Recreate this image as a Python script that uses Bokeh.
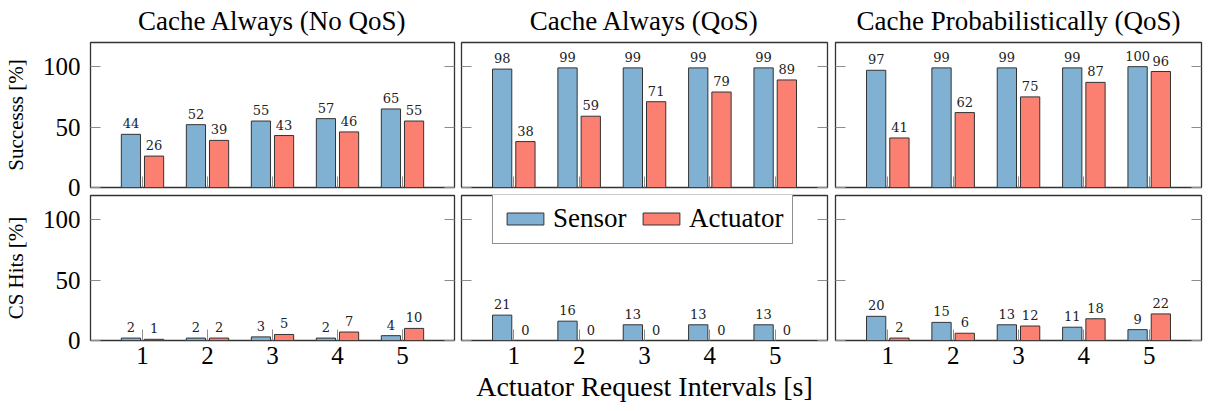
from bokeh.plotting import figure
from bokeh.layouts import row, column
from bokeh.models import ColumnDataSource, FixedTicker, LinearAxis, Range1d
from bokeh.transform import dodge
from bokeh.core.properties import value
from bokeh.embed import file_html
from bokeh.resources import INLINE

# ---------------- data ----------------
intervals = [1, 2, 3, 4, 5]
tick_labels = ["1", "2", "3", "4", "5"]
titles = ["Cache Always (No QoS)", "Cache Always (QoS)", "Cache Probabilistically (QoS)"]
row_labels = ["Successs [%]", "CS Hits [%]"]
x_label = "Actuator Request Intervals [s]"
y_ticks = [0, 50, 100]

success_sensor_noqos = [44, 52, 55, 57, 65]
success_actuator_noqos = [26, 39, 43, 46, 55]
success_sensor_qos = [98, 99, 99, 99, 99]
success_actuator_qos = [38, 59, 71, 79, 89]
success_sensor_prob = [97, 99, 99, 99, 100]
success_actuator_prob = [41, 62, 75, 87, 96]

cs_sensor_noqos = [2, 2, 3, 2, 4]
cs_actuator_noqos = [1, 2, 5, 7, 10]
cs_sensor_qos = [21, 16, 13, 13, 13]
cs_actuator_qos = [0, 0, 0, 0, 0]
cs_sensor_prob = [20, 15, 13, 11, 9]
cs_actuator_prob = [2, 6, 12, 18, 22]

panels = [
    [(success_sensor_noqos, success_actuator_noqos),
     (success_sensor_qos, success_actuator_qos),
     (success_sensor_prob, success_actuator_prob)],
    [(cs_sensor_noqos, cs_actuator_noqos),
     (cs_sensor_qos, cs_actuator_qos),
     (cs_sensor_prob, cs_actuator_prob)],
]

# ---------------- style ----------------
SERIF = "Liberation Serif"
BLUE = "#80b1d3"
RED = "#fb8072"
EDGE = "#333333"
TICK = "#8c8c8c"
FRAME_W, FRAME_H = 366, 145
lefts = [88, 4, 4]
rights = [3, 4, 7]
TOP_B = [52, 1]
BOT_B = [21, 71]
BAR_W = 0.295
OFF = 0.178


def hide_labels(ax):
    ax.major_label_text_font_size = "0px"
    ax.major_label_text_color = None
    ax.major_label_standoff = 0


def make_panel(ci, ri, sensor, actuator):
    top_b = TOP_B[ri]
    bot_b = BOT_B[ri]
    w = lefts[ci] + FRAME_W + rights[ci]
    h = top_b + FRAME_H + bot_b
    kwargs = {}
    if ri == 0:
        kwargs["title"] = titles[ci]
    p = figure(width=w, height=h, x_range=Range1d(0.2, 5.8), y_range=Range1d(0, 120),
               output_backend="svg", toolbar_location=None,
               min_border_left=lefts[ci], min_border_right=rights[ci],
               min_border_top=top_b, min_border_bottom=bot_b, **kwargs)
    p.xgrid.visible = False
    p.ygrid.visible = False
    p.outline_line_color = EDGE
    p.outline_line_width = 1.3
    p.background_fill_color = "white"
    if ri == 0:
        p.border_fill_color = "white"
        p.title.align = "center"
        p.title.text_font = SERIF
        p.title.text_font_size = "27px"
        p.title.text_font_style = "normal"
        p.title.text_color = "black"
        p.title.standoff = 14
    else:
        p.border_fill_alpha = 0

    src = ColumnDataSource(dict(x=intervals, s=sensor, a=actuator,
                                sl=[str(v) for v in sensor],
                                al=[str(v) for v in actuator]))
    leg_s = {}
    leg_a = {}
    if ri == 1 and ci == 1:
        leg_s = dict(legend_label="Sensor")
        leg_a = dict(legend_label="Actuator")
    p.vbar(x=dodge("x", -OFF), top="s", width=BAR_W, fill_color=BLUE,
           line_color=EDGE, line_width=1, source=src, **leg_s)
    p.vbar(x=dodge("x", OFF), top="a", width=BAR_W, fill_color=RED,
           line_color=EDGE, line_width=1, source=src, **leg_a)
    for col, off in (("sl", -OFF), ("al", OFF)):
        p.text(x=dodge("x", off), y="s" if col == "sl" else "a", text=col,
               text_align="center", text_baseline="alphabetic", y_offset=-11,
               text_font=value("DejaVu Serif"), text_font_size="13px",
               text_color="#222222", source=src)

    # x axis
    xa = p.xaxis[0]
    xa.ticker = FixedTicker(ticks=intervals)
    xa.major_label_overrides = {i: t for i, t in zip(intervals, tick_labels)}
    xa.major_tick_in = 11
    xa.major_tick_out = 0
    xa.minor_tick_line_color = None
    xa.major_tick_line_color = TICK
    xa.axis_line_color = None
    if ri == 0:
        hide_labels(xa)
    else:
        xa.major_label_text_font = SERIF
        xa.major_label_text_font_size = "25px"
        xa.major_label_text_color = "black"
        xa.major_label_standoff = 6
        if ci == 1:
            xa.axis_label = x_label
            xa.axis_label_text_font = SERIF
            xa.axis_label_text_font_size = "28px"
            xa.axis_label_text_font_style = "normal"
            xa.axis_label_text_color = "black"
            xa.axis_label_standoff = 4

    # y axis
    ya = p.yaxis[0]
    ya.ticker = FixedTicker(ticks=y_ticks)
    ya.major_tick_in = 10
    ya.major_tick_out = 0
    ya.minor_tick_line_color = None
    ya.major_tick_line_color = TICK
    ya.axis_line_color = None
    if ci == 0:
        ya.major_label_text_font = SERIF
        ya.major_label_text_font_size = "25px"
        ya.major_label_text_color = "black"
        ya.major_label_standoff = 10
        ya.axis_label = row_labels[ri]
        ya.axis_label_text_font = SERIF
        ya.axis_label_text_font_size = "21px"
        ya.axis_label_text_font_style = "normal"
        ya.axis_label_text_color = "black"
        ya.axis_label_standoff = 12
    else:
        hide_labels(ya)

    ra = LinearAxis(ticker=FixedTicker(ticks=y_ticks), major_tick_in=10, major_tick_out=0,
                    minor_tick_line_color=None, major_tick_line_color=TICK,
                    axis_line_color=None)
    hide_labels(ra)
    p.add_layout(ra, "right")

    if ri == 1 and ci == 1:
        lg = p.legend[0]
        lg.location = (31, 96)
        lg.orientation = "horizontal"
        lg.glyph_width = 46
        lg.glyph_height = 15
        lg.label_text_font = SERIF
        lg.label_text_font_size = "27px"
        lg.label_text_color = "black"
        lg.label_width = 85
        lg.padding = 9
        lg.spacing = 0
        lg.label_standoff = 5
        lg.margin = 0
        lg.border_line_color = "#222222"
        lg.border_line_width = 1
        lg.background_fill_alpha = 1
    return p


rows = []
for ri in range(2):
    figs = []
    for ci in range(3):
        s, a = panels[ri][ci]
        figs.append(make_panel(ci, ri, s, a))
    rows.append(figs)

top_row = row(*rows[0], margin=(-10, 0, 0, 0))
bottom_row = row(*rows[1], margin=(-14, 0, 0, 0))
layout = column(top_row, bottom_row)
open("out.html", "w").write(file_html(layout, INLINE))
